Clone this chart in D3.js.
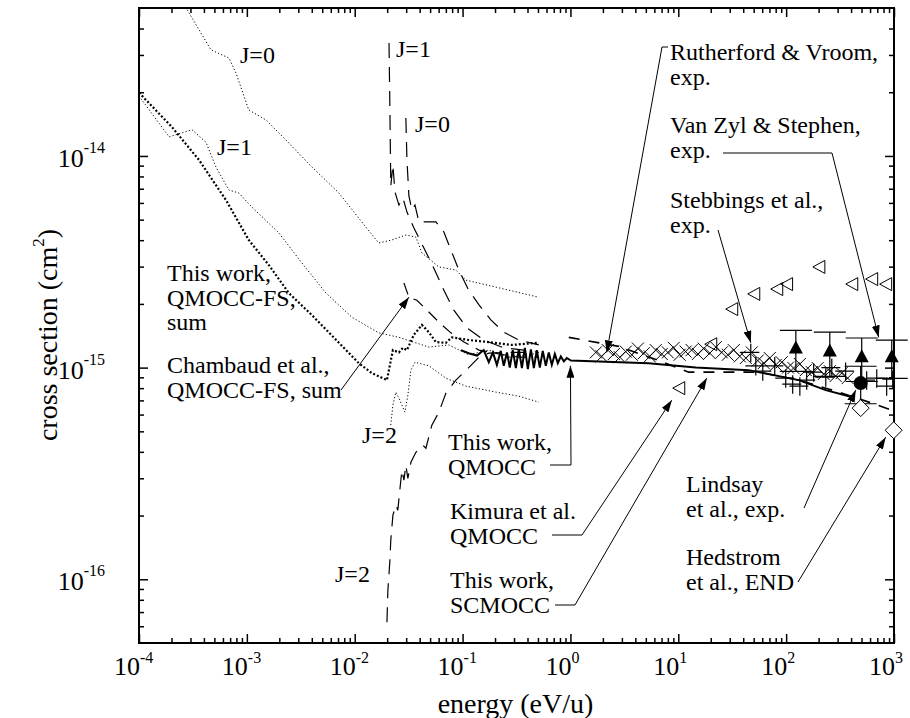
<!DOCTYPE html>
<html>
<head>
<meta charset="utf-8">
<script src="https://cdn.jsdelivr.net/npm/d3@7"></script>
<style>
  body { margin: 0; background: #fff; }
  svg text { font-family: "Liberation Serif", "DejaVu Serif", serif; fill: #000; }
</style>
</head>
<body>
<div id="chart-area"></div>
<script>
// energy in eV/u, cross section in cm^2

// this work, QMOCC-FS (thin dotted = J levels, heavy dotted = sum)
const fsSum = [[1e-4,1.99e-14],[2.02e-4,1.37e-14],[3.6e-4,9.57e-15],[6.4e-4,6.19e-15],[1.04e-3,4.01e-15],[1.6e-3,3.05e-15],[2.45e-3,2.25e-15],[4.01e-3,1.77e-15],[7.14e-3,1.31e-15],[1.09e-2,1.05e-15],[1.44e-2,9.42e-16],[1.99e-2,8.73e-16],[2.16e-2,1.08e-15],[2.26e-2,1.21e-15],[2.57e-2,1.18e-15],[2.8e-2,1.24e-15],[3.05e-2,1.21e-15],[3.54e-2,1.43e-15],[4.2e-2,1.59e-15],[4.87e-2,1.47e-15],[5.66e-2,1.32e-15],[7.0e-2,1.31e-15],[7.96e-2,1.39e-15],[0.114,1.35e-15],[0.175,1.32e-15],[0.286,1.28e-15],[0.509,1.31e-15]]
const fsJ0 = [[2.35e-4,5.77e-14],[2.91e-4,4.74e-14],[4.65e-4,3.17e-14],[6.82e-4,2.9e-14],[7.92e-4,2.47e-14],[1.04e-3,1.65e-14],[1.5e-3,1.48e-14],[2.3e-3,1.19e-14],[4.01e-3,8.87e-15],[7.14e-3,6.68e-15],[1.27e-2,4.61e-15],[1.67e-2,3.88e-15],[2.21e-2,4.01e-15],[2.98e-2,4.23e-15],[3.69e-2,4.14e-15],[4.2e-2,3.48e-15],[6.03e-2,2.99e-15],[8.67e-2,2.89e-15],[0.107,2.59e-15],[0.204,2.4e-15],[0.509,2.15e-15]]
const fsJ1 = [[1e-4,1.92e-14],[1.9e-4,1.23e-14],[3.1e-4,1.33e-14],[4.18e-4,1.16e-14],[5.17e-4,8.87e-15],[6.82e-4,6.9e-15],[8.45e-4,6.68e-15],[1.11e-3,5.74e-15],[1.98e-3,4.33e-15],[3.24e-3,3.12e-15],[5.41e-3,2.25e-15],[9.42e-3,1.73e-15],[1.67e-2,1.46e-15],[2.57e-2,1.39e-15],[4.87e-2,1.25e-15],[7.46e-2,1.28e-15],[0.114,1.15e-15],[0.175,1.21e-15],[0.269,1.12e-15],[0.509,1.17e-15]]
const fsJ2 = [[2.16e-2,5.35e-16],[2.26e-2,6.65e-16],[2.41e-2,7.66e-16],[2.57e-2,7.18e-16],[2.74e-2,6.65e-16],[2.92e-2,6.16e-16],[3.11e-2,7.41e-16],[3.32e-2,9.73e-16],[3.62e-2,1.06e-15],[4.87e-2,1.02e-15],[7.0e-2,8.92e-16],[0.107,8.18e-16],[0.204,7.66e-16],[0.332,7.33e-16],[0.509,6.87e-16]]

// Chambaud et al., QMOCC-FS (long dashes)
const chJ0 = [[2.98e-2,1.51e-14],[3.05e-2,9.57e-15],[3.18e-2,6.47e-15],[3.39e-2,5.56e-15],[3.62e-2,5.86e-15],[3.94e-2,4.88e-15],[5.66e-2,4.88e-15],[6.71e-2,4.37e-15],[7.79e-2,3.6e-15],[9.24e-2,2.89e-15],[0.114,2.32e-15],[0.142,1.98e-15],[0.183,1.68e-15],[0.241,1.47e-15],[0.332,1.35e-15],[0.509,1.28e-15]]
const chJ1 = [[2.08e-2,3.42e-14],[2.12e-2,1.65e-14],[2.16e-2,7.21e-15],[2.26e-2,9.06e-15],[2.36e-2,6.76e-15],[2.57e-2,5.86e-15],[2.8e-2,6.33e-15],[3.05e-2,5.43e-15],[3.54e-2,4.57e-15],[4.38e-2,3.67e-15],[5.42e-2,2.95e-15],[6.71e-2,2.32e-15],[8.3e-2,1.87e-15],[0.11,1.54e-15],[0.157,1.35e-15],[0.241,1.24e-15],[0.37,1.21e-15],[0.509,1.18e-15]]
const chJ2 = [[1.99e-2,6.27e-17],[2.03e-2,8.87e-17],[2.12e-2,1.23e-16],[2.16e-2,1.53e-16],[2.26e-2,2.01e-16],[2.41e-2,2.24e-16],[2.51e-2,2.12e-16],[2.62e-2,2.64e-16],[2.74e-2,3.28e-16],[2.86e-2,2.94e-16],[2.98e-2,3.46e-16],[3.11e-2,3.0e-16],[3.32e-2,3.57e-16],[3.69e-2,3.98e-16],[4.29e-2,4.3e-16],[4.57e-2,4.16e-16],[5.19e-2,5.35e-16],[6.03e-2,6.16e-16],[7.0e-2,7.57e-16],[8.67e-2,8.73e-16],[0.114,1.0e-15],[0.142,1.12e-15],[0.175,1.17e-15],[0.269,1.18e-15],[0.411,1.18e-15]]
const chSum = [[2.86e-2,2.51e-15],[3.18e-2,2.15e-15],[3.77e-2,2.08e-15],[4.67e-2,1.87e-15],[6.03e-2,1.64e-15],[7.79e-2,1.46e-15],[0.103,1.32e-15],[0.142,1.21e-15],[0.217,1.16e-15],[0.332,1.12e-15],[0.509,1.12e-15]]

// this work, QMOCC (solid) and SCMOCC (dashed)
const qmocc = [[9.64e-2,1.21e-15],[0.114,1.17e-15],[0.136,1.14e-15],[0.157,1.21e-15],[0.175,1.06e-15],[0.191,1.18e-15],[0.208,1.03e-15],[0.226,1.2e-15],[0.241,1.02e-15],[0.258,1.18e-15],[0.274,1.0e-15],[0.292,1.21e-15],[0.312,9.95e-16],[0.332,1.22e-15],[0.355,9.95e-16],[0.378,1.24e-15],[0.403,9.85e-16],[0.43,1.22e-15],[0.458,9.95e-16],[0.488,1.21e-15],[0.52,1.0e-15],[0.554,1.2e-15],[0.591,1.02e-15],[0.63,1.18e-15],[0.672,1.03e-15],[0.717,1.16e-15],[0.764,1.05e-15],[0.815,1.13e-15],[0.869,1.07e-15],[0.926,1.11e-15],[1.01,1.08e-15],[1.83,1.07e-15],[5.3,1.05e-15],[14.5,1.0e-15],[45,9.73e-16],[131,8.73e-16],[233,7.83e-16],[405,7.26e-16]]
const scmocc = [[0.966,1.39e-15],[2.79,1.26e-15],[6.6,1.08e-15],[12.5,9.52e-16],[23.7,9.52e-16],[55.7,9.52e-16],[131,8.73e-16],[308,7.66e-16],[583,6.87e-16],[953,6.3e-16]]

// experiments and other calculations
const rutherford = [[1.72,1.18e-15],[1.95,1.13e-15],[2.22,1.21e-15],[2.53,1.16e-15],[2.87,1.12e-15],[3.26,1.19e-15],[3.71,1.15e-15],[4.22,1.23e-15],[4.79,1.17e-15],[5.44,1.13e-15],[6.18,1.21e-15],[7.03,1.16e-15],[8.0,1.18e-15],[9.08,1.24e-15],[10.3,1.15e-15],[11.7,1.19e-15],[13.3,1.21e-15],[15.2,1.16e-15],[17.2,1.23e-15],[19.6,1.17e-15],[22.3,1.25e-15],[25.3,1.18e-15],[28.8,1.15e-15],[32.7,1.21e-15],[37.2,1.13e-15],[42.3,1.11e-15],[48.0,1.18e-15],[54.6,1.08e-15],[62.0,1.05e-15],[70.5,1.11e-15],[80.2,1.03e-15],[91.0,1.06e-15],[104,1.0e-15],[117,9.95e-16],[134,1.04e-15],[152,9.73e-16],[173,9.52e-16],[196,9.95e-16],[223,9.32e-16],[254,9.62e-16],[288,9.13e-16],[327,9.42e-16],[372,8.92e-16]]
// [energy, cross section, relative energy error, relative cross-section error]
const stebbings = [[47.0,1.18e-15,0.2,0.1],[52.3,1.02e-15,0.2,0.1],[60.7,9.62e-16,0.2,0.1],[78.4,1.02e-15,0.2,0.1],[99.1,8.92e-16,0.2,0.1],[115,8.36e-16,0.2,0.1],[134,8.18e-16,0.2,0.1],[155,8.73e-16,0.2,0.1],[180,9.52e-16,0.2,0.1],[233,9.02e-16,0.2,0.1],[265,1.0e-15,0.2,0.1],[356,9.62e-16,0.2,0.1],[558,8.73e-16,0.2,0.1],[692,8.92e-16,0.2,0.1],[855,8.18e-16,0.2,0.1],[973,8.82e-16,0.2,0.1]]
// [energy, cross section, absolute error]
const vanZyl = [[123,1.23e-15,0.27e-15],[254,1.19e-15,0.28e-15],[502,1.12e-15,0.26e-15],[953,1.12e-15,0.23e-15]]
const lindsay = [[491,8.45e-16,0.17e-15]]
const hedstrom = [[491,6.44e-16],[993,5.06e-16]]
const kimura = [[10.1,8.0e-16],[20.0,1.29e-15],[31.3,1.89e-15],[50.1,2.23e-15],[81.8,2.35e-15],[101,2.48e-15],[201,2.99e-15],[406,2.48e-15],[621,2.62e-15],[837,2.48e-15]]

// axis labels
const xTickExps = [-4, -3, -2, -1, 0, 1, 2, 3]
const yTickExps = [-16, -15, -14]

const MARGIN = { LEFT: 139, RIGHT: 16, TOP: 8, BOTTOM: 75 }
const WIDTH = 910 - MARGIN.LEFT - MARGIN.RIGHT
const HEIGHT = 718 - MARGIN.TOP - MARGIN.BOTTOM

const svg = d3.select("#chart-area").append("svg")
    .attr("width", 910)
    .attr("height", 718)
    .attr("font-family", "'Liberation Serif', 'DejaVu Serif', serif")

const defs = svg.append("defs")
defs.append("clipPath").attr("id", "plot-clip")
    .append("rect").attr("width", WIDTH).attr("height", HEIGHT)
defs.append("marker")
    .attr("id", "arrow")
    .attr("markerUnits", "userSpaceOnUse")
    .attr("markerWidth", 12).attr("markerHeight", 8)
    .attr("refX", 12).attr("refY", 4)
    .attr("orient", "auto")
    .append("path").attr("d", "M0,0L12,4L0,8Z").attr("fill", "#000")

const g = svg.append("g")
    .attr("transform", `translate(${MARGIN.LEFT},${MARGIN.TOP})`)

const x = d3.scaleLog().domain([1e-4, 1e3]).range([0, WIDTH])
const y = d3.scaleLog().domain([5e-17, 5e-14]).range([HEIGHT, 0])

// ticks: decades long, 2..9 short, all pointing inward on every side
const xMajor = xTickExps.map(e => Math.pow(10, e))
const xMinor = []
xMajor.slice(0, -1).forEach(d => { for (let k = 2; k < 10; k++) xMinor.push(d * k) })
const yMajor = yTickExps.map(e => Math.pow(10, e))
const yMinor = []
;[1e-17, 1e-16, 1e-15, 1e-14].forEach(d => {
    for (let k = 2; k < 10; k++) { const v = d * k; if (v > 5.01e-17 && v < 4.99e-14) yMinor.push(v) }
})

function tickLayer(axis, transform) {
    g.append("g").attr("transform", transform).call(axis)
        .call(a => a.select(".domain").remove())
        .call(a => a.selectAll("line").attr("stroke-width", 1.5))
}
tickLayer(d3.axisBottom(x).tickValues(xMajor).tickSize(-9).tickFormat(""), `translate(0,${HEIGHT})`)
tickLayer(d3.axisBottom(x).tickValues(xMinor).tickSize(-5).tickFormat(""), `translate(0,${HEIGHT})`)
tickLayer(d3.axisTop(x).tickValues(xMajor).tickSize(-9).tickFormat(""), "translate(0,0)")
tickLayer(d3.axisTop(x).tickValues(xMinor).tickSize(-5).tickFormat(""), "translate(0,0)")
tickLayer(d3.axisLeft(y).tickValues(yMajor).tickSize(-9).tickFormat(""), "translate(0,0)")
tickLayer(d3.axisLeft(y).tickValues(yMinor).tickSize(-5).tickFormat(""), "translate(0,0)")
tickLayer(d3.axisRight(y).tickValues(yMajor).tickSize(-9).tickFormat(""), `translate(${WIDTH},0)`)
tickLayer(d3.axisRight(y).tickValues(yMinor).tickSize(-5).tickFormat(""), `translate(${WIDTH},0)`)

// frame
g.append("rect")
    .attr("width", WIDTH).attr("height", HEIGHT)
    .attr("fill", "none").attr("stroke", "#000").attr("stroke-width", 2)

// tick labels, 10 with a raised exponent
xTickExps.forEach(e => {
    const px = x(Math.pow(10, e))
    g.append("text").attr("x", px + 1).attr("y", HEIGHT + 32)
        .attr("text-anchor", "end").attr("font-size", "26px").text("10")
    g.append("text").attr("x", px + 1).attr("y", HEIGHT + 20)
        .attr("font-size", "16px").text(e)
})
yTickExps.forEach(e => {
    const t = g.append("text").attr("x", -34).attr("y", y(Math.pow(10, e)) + 11)
        .attr("text-anchor", "end")
    t.append("tspan").attr("font-size", "26px").text("10")
    t.append("tspan").attr("font-size", "16px").attr("dy", -14).text(e)
})

// axis titles
g.append("text")
    .attr("x", WIDTH / 2 - 1).attr("y", HEIGHT + 70)
    .attr("text-anchor", "middle").attr("font-size", "28px")
    .text("energy (eV/u)")
const yTitle = g.append("text")
    .attr("transform", `translate(${57 - MARGIN.LEFT},${335 - MARGIN.TOP}) rotate(-90)`)
    .attr("text-anchor", "middle").attr("font-size", "28px")
yTitle.append("tspan").text("cross section (cm")
yTitle.append("tspan").attr("dy", -13).attr("font-size", "17px").text("2")
yTitle.append("tspan").attr("dy", 13).text(")")

// curves
const plot = g.append("g").attr("clip-path", "url(#plot-clip)")
const line = d3.line().x(d => x(d[0])).y(d => y(d[1]))

const curves = [
    { data: fsJ0, width: 1, dash: "1.2,2.2" },
    { data: fsJ1, width: 1, dash: "1.2,2.2" },
    { data: fsJ2, width: 1, dash: "1.2,2.2" },
    { data: fsSum, width: 2.2, dash: "2,2" },
    { data: chJ0, width: 1.2, dash: "15,9" },
    { data: chJ1, width: 1.2, dash: "15,9" },
    { data: chJ2, width: 1.2, dash: "15,9" },
    { data: chSum, width: 1.2, dash: "12,8" },
    { data: scmocc, width: 1.6, dash: "11,9" },
    { data: qmocc, width: 2, dash: null }
]
curves.forEach(c => {
    plot.append("path")
        .datum(c.data)
        .attr("d", line)
        .attr("fill", "none")
        .attr("stroke", "#000")
        .attr("stroke-width", c.width)
        .attr("stroke-dasharray", c.dash)
})

// Rutherford & Vroom: crosses
plot.selectAll(".rv").data(rutherford).enter().append("path")
    .attr("transform", d => `translate(${x(d[0])},${y(d[1])})`)
    .attr("d", "M-6,-6L6,6M-6,6L6,-6")
    .attr("stroke", "#000").attr("stroke-width", 1).attr("fill", "none")

// Stebbings et al.: error crosses
stebbings.forEach(d => {
    const cx = x(d[0]), cy = y(d[1])
    plot.append("path")
        .attr("d", `M${x(d[0] * (1 - d[2]))},${cy}H${x(d[0] * (1 + d[2]))}` +
                   `M${cx},${y(d[1] * (1 - d[3]))}V${y(d[1] * (1 + d[3]))}`)
        .attr("stroke", "#000").attr("stroke-width", 1.2)
})

// error bars with caps for Van Zyl & Stephen and Lindsay et al.
function capBars(data) {
    data.forEach(d => {
        const cx = x(d[0]), top = y(d[1] + d[2]), bot = y(d[1] - d[2])
        g.append("path")
            .attr("d", `M${cx},${top}V${bot}M${cx - 16},${top}H${cx + 16}M${cx - 16},${bot}H${cx + 16}`)
            .attr("stroke", "#000").attr("stroke-width", 1.2).attr("fill", "none")
    })
}
capBars(vanZyl)
capBars(lindsay)

g.selectAll(".vz").data(vanZyl).enter().append("path")
    .attr("transform", d => `translate(${x(d[0])},${y(d[1])})`)
    .attr("d", "M0,-8L7,5L-7,5Z").attr("fill", "#000")

g.selectAll(".li").data(lindsay).enter().append("circle")
    .attr("cx", d => x(d[0])).attr("cy", d => y(d[1])).attr("r", 7).attr("fill", "#000")

g.selectAll(".he").data(hedstrom).enter().append("path")
    .attr("transform", d => `translate(${x(d[0])},${y(d[1])})`)
    .attr("d", "M0,-8.5L8.5,0L0,8.5L-8.5,0Z")
    .attr("fill", "#fff").attr("stroke", "#000").attr("stroke-width", 1)

g.selectAll(".ki").data(kimura).enter().append("path")
    .attr("transform", d => `translate(${x(d[0])},${y(d[1])})`)
    .attr("d", "M-6,0L6,-6.5L6,6.5Z")
    .attr("fill", "none").attr("stroke", "#000").attr("stroke-width", 1)

// text labels (page coordinates, left edge and baselines)
const labels = [
    { x: 240, y: 63, lines: ["J=0"] },
    { x: 217, y: 155, lines: ["J=1"] },
    { x: 396, y: 57, lines: ["J=1"] },
    { x: 415, y: 132, lines: ["J=0"] },
    { x: 362, y: 443, lines: ["J=2"] },
    { x: 335, y: 582, lines: ["J=2"] },
    { x: 167, y: 281, lines: ["This work,", "QMOCC-FS,", "sum"] },
    { x: 167, y: 373, lines: ["Chambaud et al.,", "QMOCC-FS, sum"] },
    { x: 448, y: 450, lines: ["This work,", "QMOCC"] },
    { x: 450, y: 519, lines: ["Kimura et al.", "QMOCC"] },
    { x: 450, y: 588, lines: ["This work,", "SCMOCC"] },
    { x: 670, y: 60, lines: ["Rutherford & Vroom,", "exp."] },
    { x: 670, y: 133, lines: ["Van Zyl & Stephen,", "exp."] },
    { x: 670, y: 208, lines: ["Stebbings et al.,", "exp."] },
    { x: 686, y: 492, lines: ["Lindsay", "et al., exp."] },
    { x: 686, y: 565, lines: ["Hedstrom", "et al., END"] }
]
labels.forEach(l => {
    const t = svg.append("text").attr("font-size", "24px")
    l.lines.forEach((s, i) => {
        t.append("tspan").attr("x", l.x).attr("y", l.y + i * 24.5).text(s)
    })
})

// leader lines: page-coordinate elbow points, arrow tip at a data point
const leaders = [
    { from: [[341, 390]], tip: [3.18e-2, 2.15e-15] },
    { from: [[668, 47], [662, 47]], tip: [2.17, 1.18e-15] },
    { from: [[723, 153], [832, 153]], tip: [721, 1.39e-15] },
    { from: [[718, 230]], tip: [47.0, 1.31e-15] },
    { from: [[550, 465], [571, 465]], tip: [1.0, 1.02e-15] },
    { from: [[552, 535], [582, 535]], tip: [8.71, 7.02e-16] },
    { from: [[555, 605], [575, 605]], tip: [18.4, 8.92e-16] },
    { from: [[804, 508]], tip: [442, 7.83e-16] },
    { from: [[798, 582]], tip: [837, 4.69e-16] }
]
leaders.forEach(a => {
    const pts = a.from.concat([[MARGIN.LEFT + x(a.tip[0]), MARGIN.TOP + y(a.tip[1])]])
    svg.append("path")
        .attr("d", d3.line()(pts))
        .attr("fill", "none").attr("stroke", "#000").attr("stroke-width", 1)
        .attr("marker-end", "url(#arrow)")
})
</script>
</body>
</html>
